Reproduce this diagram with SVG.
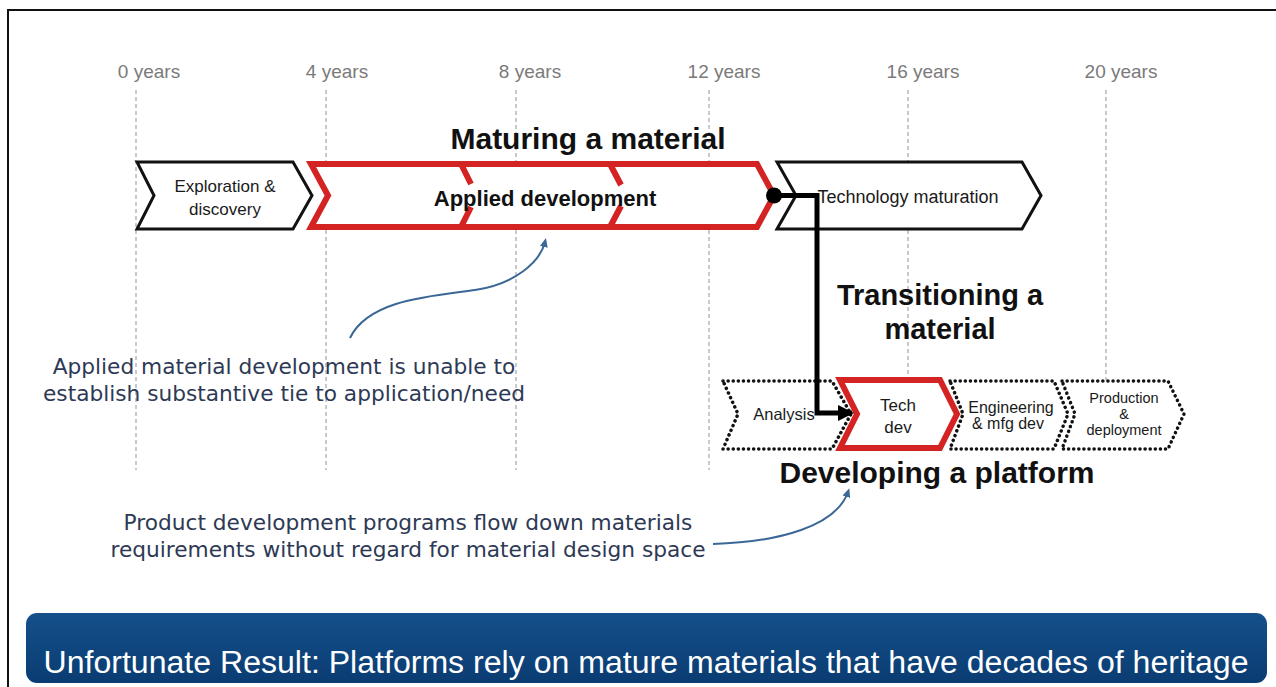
<svg xmlns="http://www.w3.org/2000/svg" width="1276" height="687" viewBox="0 0 1276 687">
  <defs>
    <style>
      .yr { font-family: "Liberation Sans", Arial, sans-serif; font-size: 19px; fill: #7a7a7a; text-anchor: middle; }
      .grid { stroke: #b8b8b8; stroke-width: 1.5; stroke-dasharray: 4 3; fill: none; }
      .head { font-family: "Liberation Sans", Arial, sans-serif; font-weight: bold; fill: #111; text-anchor: middle; }
      .lbl { font-family: "Liberation Sans", Arial, sans-serif; fill: #1a1a1a; text-anchor: middle; }
      .note { font-family: "DejaVu Sans", "Liberation Sans", sans-serif; font-size: 21.7px; fill: #2e3a55; text-anchor: middle; }
      .blk { fill: #fff; stroke: #111; stroke-width: 3; stroke-linejoin: miter; }
      .red { fill: #fff; stroke: #d42323; stroke-width: 6; stroke-linejoin: miter; }
      .redline { fill: none; stroke: #d42323; stroke-width: 6; }
      .dot { fill: #fff; stroke: #111; stroke-width: 3.5; stroke-dasharray: 0.1 5; stroke-linecap: round; }
      .curve { fill: none; stroke: #3b6796; stroke-width: 2; }
      .conn { fill: none; stroke: #000; stroke-width: 5; }
    </style>
    <marker id="bluehead" markerWidth="10" markerHeight="10" refX="5" refY="5" orient="auto" markerUnits="userSpaceOnUse">
      <path d="M0,1 L9,5 L0,9 Z" fill="#3b6796"/>
    </marker>
    <marker id="blackhead" markerWidth="18" markerHeight="18" refX="14" refY="9" orient="auto" markerUnits="userSpaceOnUse">
      <path d="M0,1 L16,9 L0,17 Z" fill="#000"/>
    </marker>
    <linearGradient id="barfill" x1="0" y1="0" x2="0" y2="1">
      <stop offset="0" stop-color="#15508b"/>
      <stop offset="1" stop-color="#0a3c72"/>
    </linearGradient>
  </defs>

  <rect width="1276" height="687" fill="#fff"/>
  <!-- frame -->
  <path d="M8,687 L8,10 L1276,10" fill="none" stroke="#111" stroke-width="2"/>

  <!-- timeline -->
  <g id="timeline">
    <text class="yr" x="149" y="78">0 years</text>
    <text class="yr" x="337" y="78">4 years</text>
    <text class="yr" x="530" y="78">8 years</text>
    <text class="yr" x="724" y="78">12 years</text>
    <text class="yr" x="923" y="78">16 years</text>
    <text class="yr" x="1121" y="78">20 years</text>
    <line class="grid" x1="136" y1="90" x2="136" y2="470"/>
    <line class="grid" x1="326" y1="90" x2="326" y2="470"/>
    <line class="grid" x1="516" y1="90" x2="516" y2="470"/>
    <line class="grid" x1="709" y1="90" x2="709" y2="470"/>
    <line class="grid" x1="908" y1="90" x2="908" y2="380"/>
    <line class="grid" x1="1106" y1="90" x2="1106" y2="380"/>
  </g>

  <text class="head" x="588" y="149" font-size="30">Maturing a material</text>

  <g id="exploration">
    <path class="blk" d="M137,162 L293,162 L312,195.5 L293,229 L137,229 L154,195.5 Z"/>
    <text class="lbl" x="225" y="192" font-size="17">Exploration &amp;</text>
    <text class="lbl" x="225" y="215" font-size="17">discovery</text>
  </g>

  <g id="applied">
    <path class="red" d="M311,164 L757,164 L774,195.5 L757,227 L311,227 L328,195.5 Z"/>
    <path class="redline" d="M461,164 L471,184 M471,207 L461,227"/>
    <path class="redline" d="M610,164 L621,185 M621,206 L610,227"/>
    <text class="head" x="545" y="206" font-size="22">Applied development</text>
  </g>

  <g id="techmat">
    <path class="blk" d="M777,162 L1022,162 L1041,195.5 L1022,229 L777,229 L796,195.5 Z"/>
    <text class="lbl" x="908" y="203" font-size="18">Technology maturation</text>
  </g>

  <text class="head" x="940" y="305" font-size="29">Transitioning a</text>
  <text class="head" x="940" y="339" font-size="29">material</text>

  <g id="analysis">
    <path class="dot" d="M723,381 L832,381 L851,414 L832,449 L723,449 L738,414 Z"/>
    <text class="lbl" x="784" y="420" font-size="16.5">Analysis</text>
  </g>
  <g id="engineering">
    <path class="dot" d="M950,381 L1054,381 L1068,414 L1054,449 L950,449 L963,414 Z"/>
    <text class="lbl" x="1011" y="413" font-size="16">Engineering</text>
    <text class="lbl" x="1008" y="429" font-size="16">&amp; mfg dev</text>
  </g>
  <g id="production">
    <path class="dot" d="M1062,381 L1168,381 L1184,414 L1168,449 L1062,449 L1075,414 Z"/>
    <text class="lbl" x="1124" y="403" font-size="14.5">Production</text>
    <text class="lbl" x="1124" y="419" font-size="14.5">&amp;</text>
    <text class="lbl" x="1124" y="435" font-size="14.5">deployment</text>
  </g>
  <g id="techdev">
    <path class="red" d="M840,380 L940,380 L957,414 L940,448 L840,448 L857,414 Z"/>
    <text class="lbl" x="898" y="411" font-size="17">Tech</text>
    <text class="lbl" x="898" y="433" font-size="17">dev</text>
  </g>

  <text class="head" x="937" y="483" font-size="30">Developing a platform</text>

  <!-- connectors -->
  <g id="connectors">
    <circle cx="774" cy="195.5" r="8" fill="#000"/>
    <path class="conn" d="M774,195.5 L817,195.5 L817,413 L852,413" marker-end="url(#blackhead)"/>
    <path class="curve" d="M350,338 C368,300 430,296 475,290 C515,284 540,262 545,242" marker-end="url(#bluehead)"/>
    <path class="curve" d="M713,544 C780,542 836,526 848,492" marker-end="url(#bluehead)"/>
  </g>

  <g id="notes">
    <text class="note" x="284" y="374">Applied material development is unable to</text>
    <text class="note" x="284" y="401">establish substantive tie to application/need</text>
    <text class="note" x="408" y="530">Product development programs flow down materials</text>
    <text class="note" x="408" y="557">requirements without regard for material design space</text>
  </g>

  <g id="result">
    <rect x="26" y="613" width="1241" height="70" rx="11" fill="url(#barfill)"/>
    <text x="646" y="673" font-family="'Liberation Sans', Arial, sans-serif" font-size="31" fill="#fff" text-anchor="middle" textLength="1205" lengthAdjust="spacingAndGlyphs">Unfortunate Result: Platforms rely on mature materials that have decades of heritage</text>
  </g>
</svg>
